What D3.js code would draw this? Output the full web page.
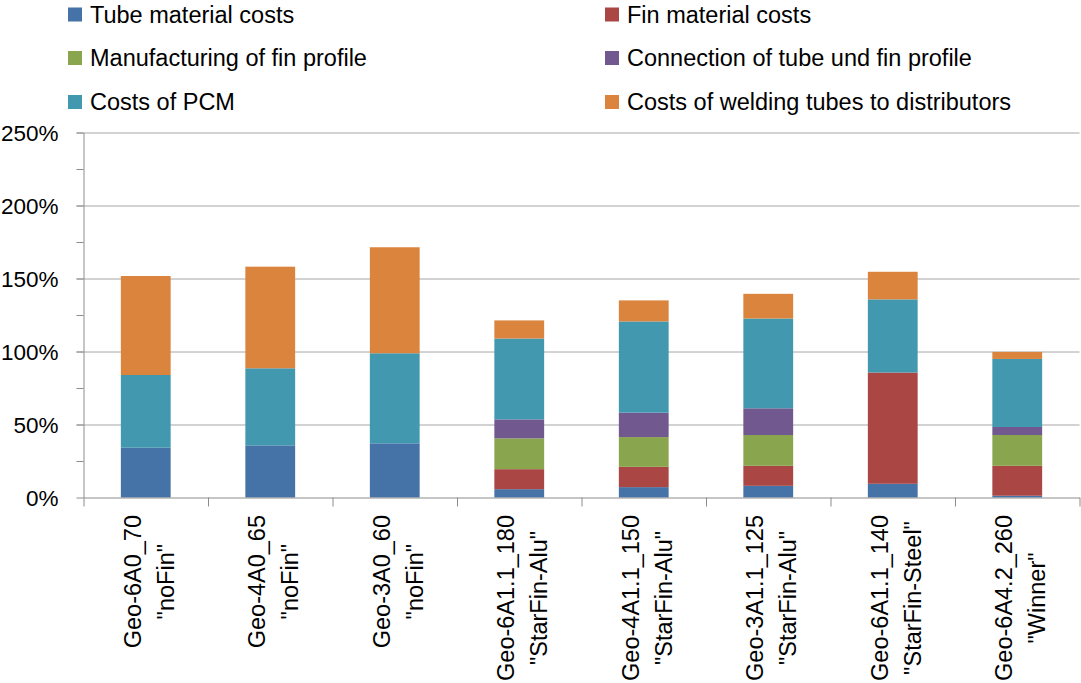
<!DOCTYPE html>
<meta charset="utf-8">
<style>
    body { margin: 0; background: #fff; }
    svg text { font-family: "Liberation Sans", Arial, sans-serif; fill: #000; }
    .grid line { stroke: #a6a6a6; stroke-width: 1px; }
    .grid path { display: none; }
    .axis path, .axis line { stroke: #8c8c8c; stroke-width: 1px; }
</style>
<body>
<script src="https://cdn.jsdelivr.net/npm/d3@7/dist/d3.min.js"></script>
<script>
    // categories, two lines each
    var categories = [
        ["Geo-6A0_70", "\"noFin\""],
        ["Geo-4A0_65", "\"noFin\""],
        ["Geo-3A0_60", "\"noFin\""],
        ["Geo-6A1.1_180", "\"StarFin-Alu\""],
        ["Geo-4A1.1_150", "\"StarFin-Alu\""],
        ["Geo-3A1.1_125", "\"StarFin-Alu\""],
        ["Geo-6A1.1_140", "\"StarFin-Steel\""],
        ["Geo-6A4.2_260", "\"Winner\""]
    ];

    var seriesNames = [
        "Tube material costs",
        "Fin material costs",
        "Manufacturing of fin profile",
        "Connection of tube und fin profile",
        "Costs of PCM",
        "Costs of welding tubes to distributors"
    ];
    var seriesColors = ["#4572A7", "#AA4643", "#89A54E", "#71588F", "#4198AF", "#DB843D"];

    // values in %
    var tubeCosts   = [34.1, 35.7, 37.1,  5.7,  7.1,  8.0,  9.4,  1.2];
    var finCosts    = [ 0,    0,    0,   13.7, 13.9, 13.7, 76.2, 20.5];
    var manufCosts  = [ 0,    0,    0,   21.1, 20.4, 21.1,  0,   21.1];
    var connCosts   = [ 0,    0,    0,   13.0, 16.7, 18.3,  0,    5.5];
    var pcmCosts    = [49.8, 52.8, 61.7, 55.4, 62.5, 61.5, 50.1, 46.6];
    var weldCosts   = [67.8, 69.6, 72.6, 12.4, 14.4, 16.9, 18.9,  4.8];
    var seriesValues = [tubeCosts, finCosts, manufCosts, connCosts, pcmCosts, weldCosts];

    var yTicks = [0, 50, 100, 150, 200, 250];
    var yMinorTicks = [25, 75, 125, 175, 225];

    var width = 1081, height = 683;
    var plotLeft = 83.5, plotRight = 1079.5, plotTop = 132.5, plotBottom = 497.5;
    var fontSize = "23.5px";

    var svg = d3.select("body").append("svg")
        .attr("width", width)
        .attr("height", height);

    var y = d3.scaleLinear().domain([0, 250]).range([plotBottom, plotTop]);
    var xEdge = d3.scaleLinear().domain([0, categories.length]).range([plotLeft, plotRight]);
    var x = d3.scaleBand().domain(d3.range(categories.length)).range([plotLeft, plotRight]).padding(0);
    var barW = x.bandwidth() * 0.4;

    // gridlines
    svg.append("g")
        .attr("class", "grid")
        .attr("transform", "translate(" + (plotLeft - 7) + ",0)")
        .call(d3.axisRight(y).tickValues(yTicks.slice(1)).tickSize(plotRight - plotLeft + 7).tickFormat(""));

    // minor ticks
    svg.append("g")
        .attr("class", "axis")
        .attr("transform", "translate(" + plotLeft + ",0)")
        .call(d3.axisLeft(y).tickValues(yMinorTicks).tickSize(7).tickSizeOuter(0).tickFormat(""))
        .select("path").remove();

    // y axis with labels
    var yAxis = svg.append("g")
        .attr("class", "axis")
        .attr("transform", "translate(" + plotLeft + ",0)")
        .call(d3.axisLeft(y).tickValues(yTicks).tickSize(7).tickSizeOuter(0).tickPadding(18)
            .tickFormat(function(d) { return d + "%"; }));
    yAxis.selectAll("text").style("font-size", "22.5px").attr("dy", "0.36em");

    // stacked bars
    var rows = categories.map(function(c, i) {
        var r = {};
        seriesValues.forEach(function(s, k) { r["s" + k] = s[i]; });
        return r;
    });
    var stack = d3.stack().keys(seriesValues.map(function(s, k) { return "s" + k; }));
    var layers = stack(rows);

    svg.append("g").selectAll("g")
        .data(layers)
        .join("g")
        .attr("fill", function(d, k) { return seriesColors[k]; })
        .selectAll("rect")
        .data(function(d) { return d; })
        .join("rect")
        .attr("x", function(d, i) { return x(i) + (x.bandwidth() - barW) / 2; })
        .attr("width", barW)
        .attr("y", function(d) { return y(d[1]); })
        .attr("height", function(d) { return Math.max(0, y(d[0]) - y(d[1])); });

    // x axis
    svg.append("g")
        .attr("class", "axis")
        .attr("transform", "translate(0," + plotBottom + ")")
        .call(d3.axisBottom(xEdge).tickValues(d3.range(categories.length + 1)).tickSize(9).tickSizeOuter(0).tickFormat(""));

    // category labels, rotated
    var labels = svg.append("g").selectAll("g")
        .data(categories)
        .join("g");
    labels.each(function(lines, i) {
        var g = d3.select(this);
        var t = g.selectAll("text").data(lines).join("text")
            .style("font-size", fontSize)
            .attr("text-anchor", "middle")
            .attr("y", function(d, j) { return j === 0 ? -5 : 28; })
            .text(function(d) { return d; });
        var maxLen = 0;
        t.each(function() { maxLen = Math.max(maxLen, this.getComputedTextLength()); });
        var cx = x(i) + x.bandwidth() / 2;
        g.attr("transform", "translate(" + cx + "," + (515 + maxLen / 2) + ") rotate(-90)");
    });

    // legend
    var legendPos = [[68, 14.5], [605, 14.5], [68, 58], [605, 58], [68, 102], [605, 102]];
    var legend = svg.append("g").selectAll("g")
        .data(seriesNames)
        .join("g")
        .attr("transform", function(d, k) { return "translate(" + legendPos[k][0] + "," + legendPos[k][1] + ")"; });
    legend.append("rect")
        .attr("x", 0).attr("y", -7)
        .attr("width", 14).attr("height", 14)
        .attr("fill", function(d, k) { return seriesColors[k]; });
    legend.append("text")
        .attr("x", 22)
        .attr("dy", "0.36em")
        .style("font-size", fontSize)
        .text(function(d) { return d; });
</script>
</body>
